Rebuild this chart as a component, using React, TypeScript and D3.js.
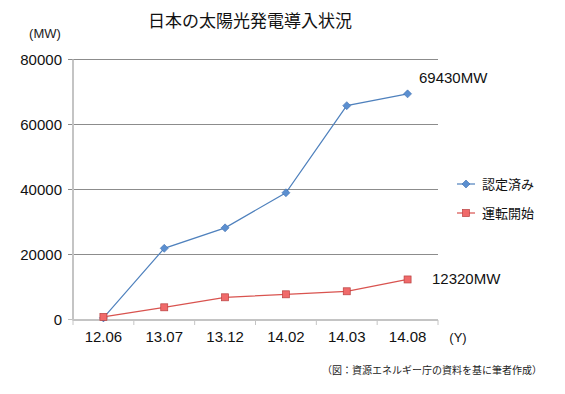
import React from "react";
import * as d3 from "d3";

const categories = ["12.06", "13.07", "13.12", "14.02", "14.03", "14.08"];
const certified = [500, 21900, 28200, 39000, 65800, 69430];
const operating = [800, 3750, 6830, 7750, 8680, 12320];
const yTicks = [0, 20000, 40000, 60000, 80000];
const seriesNames = ["認定済み", "運転開始"];
const endLabels = ["69430MW", "12320MW"];

const W = 565, H = 394;
const FONT = "'Noto Sans CJK JP', 'Noto Sans', sans-serif";
const NUM = "'Liberation Sans', Arial, sans-serif";

export default function App() {
  const x = d3.scaleBand<string>().domain(categories).range([73, 438]);
  const y = d3.scaleLinear().domain([0, 80000]).range([319.5, 59.5]);
  const cx = (c: string) => (x(c) as number) + x.bandwidth() / 2;
  const line = d3.line<number>().x((_, i) => cx(categories[i])).y((v) => y(v));
  const blue = "#4f81bd";
  const red = "#d9534f";
  const boundaries = categories.map((c) => x(c) as number).concat([438]);

  return (
    <svg width={W} height={H} style={{ position: "absolute", left: 0, top: 0, background: "#fff" }} fontFamily={FONT}>
      <text x={250} y={27} textAnchor="middle" fontSize={17} fill="#111">日本の太陽光発電導入状況</text>
      <text x={45} y={38} textAnchor="middle" fontSize={13} fill="#222" fontFamily={NUM}>(MW)</text>
      {yTicks.map((t) => (
        <g key={t}>
          {t > 0 && <line x1={68} x2={438} y1={y(t)} y2={y(t)} stroke="#8c8c8c" strokeWidth={1} />}
          {t === 0 && <line x1={68} x2={73} y1={y(t)} y2={y(t)} stroke="#c0c0c0" strokeWidth={1} />}
          <text x={62} y={y(t)} dy="0.35em" textAnchor="end" fontSize={15} fill="#111" fontFamily={NUM}>{t}</text>
        </g>
      ))}
      <line x1={73} x2={73} y1={59.5} y2={320.5} stroke="#c4c4c4" strokeWidth={2} />
      <line x1={73} x2={438} y1={320} y2={320} stroke="#c4c4c4" strokeWidth={2} />
      {boundaries.map((b, i) => (
        <line key={i} x1={b} x2={b} y1={320} y2={325} stroke="#c4c4c4" strokeWidth={1} />
      ))}
      {categories.map((c) => (
        <text key={c} x={cx(c)} y={337} dy="0.35em" textAnchor="middle" fontSize={15} fill="#111" fontFamily={NUM}>{c}</text>
      ))}
      <text x={458} y={337} dy="0.35em" textAnchor="middle" fontSize={13} fill="#111" fontFamily={NUM}>(Y)</text>

      <path d={line(certified) || ""} fill="none" stroke={blue} strokeWidth={1.2} />
      <path d={line(operating) || ""} fill="none" stroke={red} strokeWidth={1.2} />
      {certified.map((v, i) => {
        const px = cx(categories[i]), py = y(v);
        return <path key={i} d={`M${px},${py - 4}L${px + 4},${py}L${px},${py + 4}L${px - 4},${py}Z`} fill="#5b8fd0" stroke="#3f6fae" strokeWidth={0.6} />;
      })}
      {operating.map((v, i) => {
        const px = cx(categories[i]), py = y(v);
        return <rect key={i} x={px - 3.5} y={py - 3.5} width={7} height={7} fill="#f06a6a" stroke="#b84040" strokeWidth={0.7} />;
      })}

      <text x={419} y={78} dy="0.35em" fontSize={15} fill="#111" fontFamily={NUM}>{endLabels[0]}</text>
      <text x={432} y={279} dy="0.35em" fontSize={15} fill="#111" fontFamily={NUM}>{endLabels[1]}</text>

      <line x1={457} x2={475} y1={184} y2={184} stroke={blue} strokeWidth={1.2} />
      <path d="M466,180L470,184L466,188L462,184Z" fill="#5b8fd0" stroke="#3f6fae" strokeWidth={0.6} />
      <text x={482} y={184} dy="0.35em" fontSize={13} fill="#111">{seriesNames[0]}</text>
      <line x1={457} x2={475} y1={213} y2={213} stroke={red} strokeWidth={1.2} />
      <rect x={462.5} y={209.5} width={7} height={7} fill="#f06a6a" stroke="#b84040" strokeWidth={0.7} />
      <text x={482} y={213} dy="0.35em" fontSize={13} fill="#111">{seriesNames[1]}</text>

      <text x={542} y={370} dy="0.35em" textAnchor="end" fontSize={10} fill="#222">（図：資源エネルギー庁の資料を基に筆者作成）</text>
    </svg>
  );
}
